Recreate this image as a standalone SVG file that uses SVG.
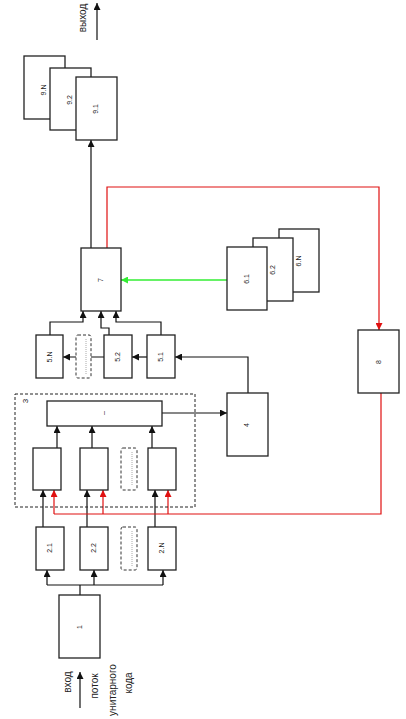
<svg xmlns="http://www.w3.org/2000/svg" width="406" height="719" viewBox="0 0 406 719">
<style>
.b{fill:#fff;stroke:#222;stroke-width:1.3}
.d{fill:#fff;stroke:#333;stroke-width:1;stroke-dasharray:3 2}
.g{fill:none;stroke:#222;stroke-width:1;stroke-dasharray:3 2}
.dots{stroke:#aaa;stroke-width:1;stroke-dasharray:1 1}
.c{fill:none;stroke:#111;stroke-width:1.2}
.r{fill:none;stroke:#e01010;stroke-width:1.2}
.gr{fill:none;stroke:#33ee33;stroke-width:1.4}
.t{font-family:"Liberation Sans",Arial,sans-serif;font-size:7px;fill:#222;text-anchor:middle}
.l{font-family:"Liberation Sans",Arial,sans-serif;font-size:10px;fill:#222;text-anchor:middle}
</style>
<defs>
<marker id="ab" viewBox="0 0 10 10" refX="10" refY="5" markerWidth="7" markerHeight="7" markerUnits="userSpaceOnUse" orient="auto"><path d="M0,0L10,5L0,10z" fill="#111"/></marker>
<marker id="ar" viewBox="0 0 10 10" refX="10" refY="5" markerWidth="7" markerHeight="7" markerUnits="userSpaceOnUse" orient="auto"><path d="M0,0L10,5L0,10z" fill="#e01010"/></marker>
<marker id="ag" viewBox="0 0 10 10" refX="10" refY="5" markerWidth="7" markerHeight="7" markerUnits="userSpaceOnUse" orient="auto"><path d="M0,0L10,5L0,10z" fill="#33ee33"/></marker>
</defs>

<g id="connectors">
<path class="c" d="M80,708V672" marker-end="url(#ab)"/>
<path class="c" d="M80,595V585M47,585H163"/>
<path class="c" d="M47,585V570" marker-end="url(#ab)"/>
<path class="c" d="M94,585V570" marker-end="url(#ab)"/>
<path class="c" d="M163,585V570" marker-end="url(#ab)"/>
<path class="c" d="M43,527V490" marker-end="url(#ab)"/>
<path class="c" d="M87,527V490" marker-end="url(#ab)"/>
<path class="c" d="M155,527V490" marker-end="url(#ab)"/>
<path class="r" d="M381,393V514H54"/>
<path class="r" d="M54,514V490" marker-end="url(#ar)"/>
<path class="r" d="M103,514V490" marker-end="url(#ar)"/>
<path class="r" d="M168,514V490" marker-end="url(#ar)"/>
<path class="c" d="M57,448V426" marker-end="url(#ab)"/>
<path class="c" d="M92,448V426" marker-end="url(#ab)"/>
<path class="c" d="M152,448V426" marker-end="url(#ab)"/>
<path class="c" d="M162,413H227" marker-end="url(#ab)"/>
<path class="c" d="M248,393V357H175" marker-end="url(#ab)"/>
<path class="c" d="M147,357H132" marker-end="url(#ab)"/>
<path class="c" d="M104,357H63" marker-end="url(#ab)"/>
<path class="c" d="M50,335V322H83V311" marker-end="url(#ab)"/>
<path class="c" d="M109,335V328H101V311" marker-end="url(#ab)"/>
<path class="c" d="M161,335V322H116V311" marker-end="url(#ab)"/>
<path class="gr" d="M227,280H121" marker-end="url(#ag)"/>
<path class="c" d="M91,248V140" marker-end="url(#ab)"/>
<path class="r" d="M107,248V187H379V330" marker-end="url(#ar)"/>
<path class="c" d="M97,40V3" marker-end="url(#ab)"/>
</g>

<g id="group3"><rect class="g" x="15" y="394" width="180" height="113"/><text class="t" transform="translate(25,401) rotate(-90)" dy="0.35em" style="font-size:8px">3</text></g>

<g id="n1"><rect class="b" x="59" y="595" width="41" height="63"/><text class="t" transform="translate(80,627) rotate(-90)" dy="0.35em">1</text></g>
<g id="n2_1"><rect class="b" x="36" y="527" width="28" height="43"/><text class="t" transform="translate(50,548) rotate(-90)" dy="0.35em">2.1</text></g>
<g id="n2_2"><rect class="b" x="80" y="527" width="28" height="43"/><text class="t" transform="translate(94,548) rotate(-90)" dy="0.35em">2.2</text></g>
<g id="n2_d"><rect class="d" x="121" y="527" width="16" height="43" rx="2"/><path class="dots" d="M132,531V566"/></g>
<g id="n2_N"><rect class="b" x="148" y="527" width="28" height="43"/><text class="t" transform="translate(162,548) rotate(-90)" dy="0.35em">2.N</text></g>

<g id="n3_1"><rect class="b" x="33" y="448" width="28" height="42"/></g>
<g id="n3_2"><rect class="b" x="80" y="448" width="28" height="42"/></g>
<g id="n3_d"><rect class="d" x="121" y="448" width="16" height="42" rx="2"/><path class="dots" d="M132,452V486"/></g>
<g id="n3_N"><rect class="b" x="148" y="448" width="28" height="42"/></g>
<g id="n3_top"><rect class="b" x="47" y="401" width="115" height="25"/><text class="t" transform="translate(104,413) rotate(-90)" dy="0.35em">–</text></g>

<g id="n4"><rect class="b" x="227" y="393" width="41" height="63"/><text class="t" transform="translate(247,425) rotate(-90)" dy="0.35em">4</text></g>

<g id="n5_N"><rect class="b" x="36" y="335" width="27" height="43"/><text class="t" transform="translate(50,357) rotate(-90)" dy="0.35em">5.N</text></g>
<g id="n5_d"><rect class="d" x="76" y="335" width="15" height="43" rx="2"/><path class="dots" d="M86,339V374"/></g>
<g id="n5_2"><rect class="b" x="104" y="335" width="28" height="43"/><text class="t" transform="translate(118,357) rotate(-90)" dy="0.35em">5.2</text></g>
<g id="n5_1"><rect class="b" x="147" y="335" width="28" height="43"/><text class="t" transform="translate(161,357) rotate(-90)" dy="0.35em">5.1</text></g>

<g id="n7"><rect class="b" x="81" y="248" width="40" height="63"/><text class="t" transform="translate(101,280) rotate(-90)" dy="0.35em">7</text></g>

<g id="n6_N"><rect class="b" x="279" y="229" width="40" height="63"/><text class="t" transform="translate(299,261) rotate(-90)" dy="0.35em">6.N</text></g>
<g id="n6_2"><rect class="b" x="253" y="238" width="40" height="63"/><text class="t" transform="translate(273,270) rotate(-90)" dy="0.35em">6.2</text></g>
<g id="n6_1"><rect class="b" x="227" y="247" width="40" height="63"/><text class="t" transform="translate(247,279) rotate(-90)" dy="0.35em">6.1</text></g>

<g id="n8"><rect class="b" x="358" y="330" width="41" height="63"/><text class="t" transform="translate(379,362) rotate(-90)" dy="0.35em">8</text></g>

<g id="n9_N"><rect class="b" x="24" y="56" width="41" height="63"/><text class="t" transform="translate(44,90) rotate(-90)" dy="0.35em">9.N</text></g>
<g id="n9_2"><rect class="b" x="50" y="68" width="41" height="62"/><text class="t" transform="translate(70,100) rotate(-90)" dy="0.35em">9.2</text></g>
<g id="n9_1"><rect class="b" x="76" y="77" width="41" height="63"/><text class="t" transform="translate(96,109) rotate(-90)" dy="0.35em">9.1</text></g>

<g id="labels">
<text class="l" transform="translate(82,18) rotate(-90)" dy="0.35em">выход</text>
<text class="l" transform="translate(67,682) rotate(-90)" dy="0.35em">вход</text>
<text class="l" transform="translate(94,686) rotate(-90)" dy="0.35em">поток</text>
<text class="l" transform="translate(112,690) rotate(-90)" dy="0.35em">унитарного</text>
<text class="l" transform="translate(128,683) rotate(-90)" dy="0.35em">кода</text>
</g>
</svg>
